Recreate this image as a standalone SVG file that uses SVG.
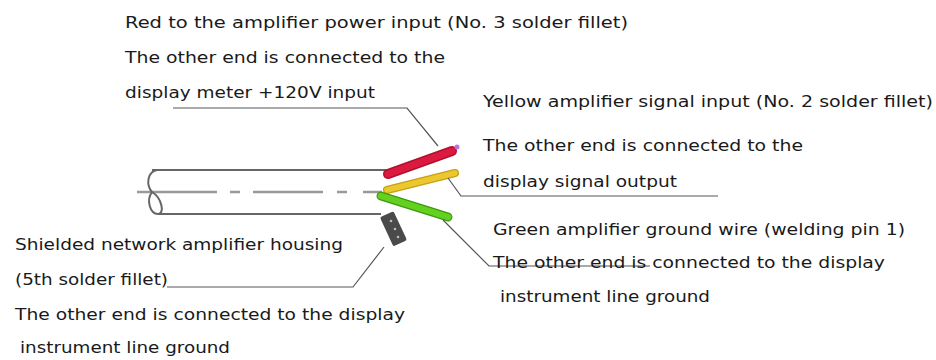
<svg xmlns="http://www.w3.org/2000/svg" width="936" height="360" viewBox="0 0 936 360">
<style>
text{font-family:"DejaVu Sans","Liberation Sans",sans-serif;font-size:15px;fill:#1a1a1a}
.lead{stroke:#555;stroke-width:1.2;fill:none}
.cab{stroke:#666;stroke-width:2;fill:none}
</style>
<rect width="936" height="360" fill="#fff"/>
<g id="cable">
<line class="cab" x1="152" y1="170" x2="388" y2="170"/>
<line class="cab" x1="158" y1="214" x2="381" y2="214"/>
<line x1="137" y1="192" x2="382" y2="192" stroke="#999" stroke-width="2.5" stroke-dasharray="80,13,10,13,70,14,10,16,20"/>
<path class="cab" d="M157,170 C147,172 146,185 152,192 C146,200 150,214 158,214 C165,214 162,198 152,192" stroke-width="1.6"/>
</g>
<g id="wires">
<line x1="388" y1="174" x2="452" y2="151" stroke="#b01030" stroke-width="10" stroke-linecap="round"/>
<line x1="388" y1="174" x2="452" y2="151" stroke="#dc1a40" stroke-width="7" stroke-linecap="round"/>
<circle cx="457" cy="147" r="2.5" fill="#c070e0"/>
<line x1="387" y1="190" x2="455" y2="173" stroke="#c8a010" stroke-width="8" stroke-linecap="round"/>
<line x1="387" y1="190" x2="455" y2="173" stroke="#ecc830" stroke-width="5.5" stroke-linecap="round"/>
<line x1="381" y1="196" x2="448" y2="217" stroke="#3c9a10" stroke-width="9" stroke-linecap="round"/>
<line x1="381" y1="196" x2="448" y2="217" stroke="#64d020" stroke-width="6.5" stroke-linecap="round"/>
<rect x="386" y="213" width="15" height="32" rx="2" fill="#4a4a4a" transform="rotate(-25 393 229)"/>
<circle cx="391" cy="221" r="1.3" fill="#bbb"/>
<circle cx="395" cy="229" r="1.3" fill="#bbb"/>
<circle cx="398" cy="237" r="1.3" fill="#bbb"/>
</g>
<g id="connectors">
<polyline class="lead" points="173,108 407,108 438,146"/>
<polyline class="lead" points="448,178 461,196 718,196"/>
<polyline class="lead" points="443,220 489,266 650,266"/>
<polyline class="lead" points="384,247 353,287 167,287"/>
</g>
<g id="label-red">
<text x="125" y="28" textLength="503" lengthAdjust="spacingAndGlyphs">Red to the amplifier power input (No. 3 solder fillet)</text>
<text x="125" y="63" textLength="320" lengthAdjust="spacingAndGlyphs">The other end is connected to the</text>
<text x="125" y="98" textLength="250" lengthAdjust="spacingAndGlyphs">display meter +120V input</text>
</g>
<g id="label-yellow">
<text x="483" y="107" textLength="450" lengthAdjust="spacingAndGlyphs">Yellow amplifier signal input (No. 2 solder fillet)</text>
<text x="483" y="151" textLength="320" lengthAdjust="spacingAndGlyphs">The other end is connected to the</text>
<text x="483" y="187" textLength="194" lengthAdjust="spacingAndGlyphs">display signal output</text>
</g>
<g id="label-green">
<text x="493" y="235" textLength="412" lengthAdjust="spacingAndGlyphs">Green amplifier ground wire (welding pin 1)</text>
<text x="493" y="268" textLength="392" lengthAdjust="spacingAndGlyphs">The other end is connected to the display</text>
<text x="500" y="302" textLength="210" lengthAdjust="spacingAndGlyphs">instrument line ground</text>
</g>
<g id="label-housing">
<text x="15" y="250" textLength="328" lengthAdjust="spacingAndGlyphs">Shielded network amplifier housing</text>
<text x="15" y="285" textLength="153" lengthAdjust="spacingAndGlyphs">(5th solder fillet)</text>
<text x="15" y="320" textLength="390" lengthAdjust="spacingAndGlyphs">The other end is connected to the display</text>
<text x="20" y="353" textLength="210" lengthAdjust="spacingAndGlyphs">instrument line ground</text>
</g>
</svg>
